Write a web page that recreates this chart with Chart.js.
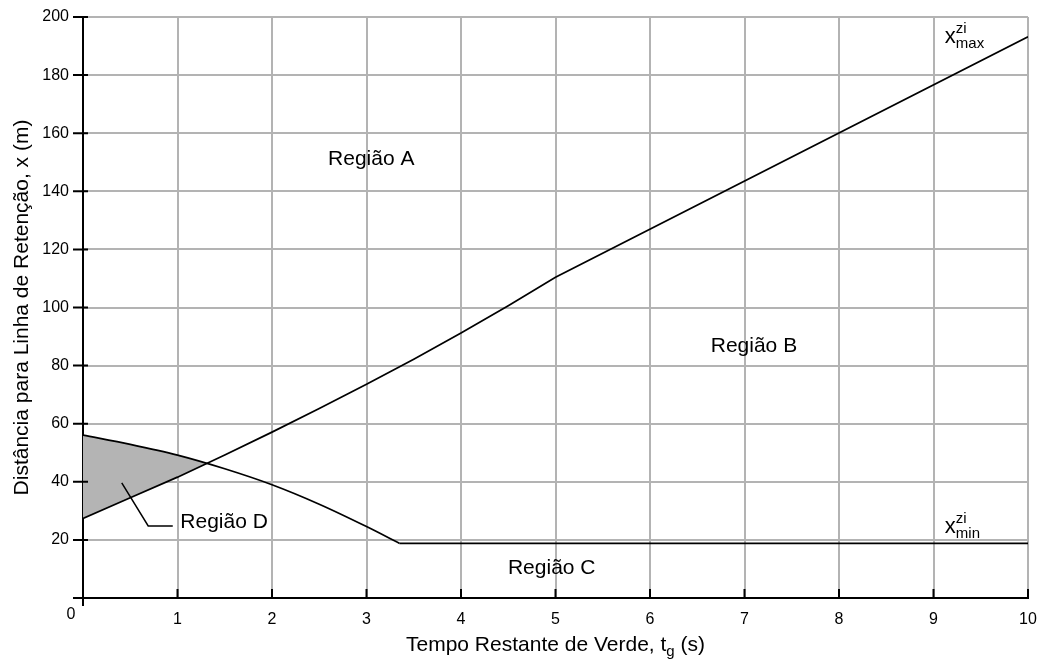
<!DOCTYPE html>
<html>
<head>
<meta charset="utf-8">
<script src="https://cdn.jsdelivr.net/npm/chart.js@4"></script>
<style>
  html, body { margin: 0; padding: 0; background: #fff; }
  canvas { display: block; }
</style>
</head>
<body>
<canvas id="chart" width="1039" height="660"></canvas>
<script>
// time remaining of green (s)
const xMaxTimes = [0, 0.5, 1, 1.5, 2, 2.5, 3, 3.5, 4, 4.5, 5, 10];
const xMaxDist = [27.4, 34.5, 41.6, 49.2, 57.1, 65.2, 73.6, 82.2, 91.2, 100.6, 110.4, 193.2];

const xMinTimes = [0, 0.5, 1, 1.5, 2, 2.5, 3, 3.35, 10];
const xMinDist = [56.1, 52.9, 49.2, 44.5, 39.0, 32.3, 24.6, 18.8, 18.8];

const xTicks = [0, 1, 2, 3, 4, 5, 6, 7, 8, 9, 10];
const yTicks = [0, 20, 40, 60, 80, 100, 120, 140, 160, 180, 200];

const FONT = '"Liberation Sans", Arial, Helvetica, sans-serif';
const GRID = '#b3b3b3';

function toPoints(xs, ys) {
  return xs.map((x, i) => ({ x: x, y: ys[i] }));
}

// draws text made of pieces (normal / super / sub)
function richText(ctx, x, y, parts) {
  let cx = x;
  parts.forEach(p => {
    ctx.font = p.size + 'px ' + FONT;
    ctx.fillText(p.text, cx, y + (p.dy || 0));
    cx += ctx.measureText(p.text).width;
  });
  return cx - x;
}

function richWidth(ctx, parts) {
  let w = 0;
  parts.forEach(p => {
    ctx.font = p.size + 'px ' + FONT;
    w += ctx.measureText(p.text).width;
  });
  return w;
}

const annotate = {
  id: 'annotate',
  afterDraw(chart) {
    const { ctx, chartArea: a } = chart;
    const sx = chart.scales.x;
    const sy = chart.scales.y;
    const px = v => sx.getPixelForValue(v);
    const py = v => sy.getPixelForValue(v);

    ctx.save();
    ctx.strokeStyle = '#000';
    ctx.lineWidth = 2;
    ctx.beginPath();
    // y ticks, crossing the axis
    yTicks.forEach(v => {
      ctx.moveTo(a.left - 10, py(v));
      ctx.lineTo(a.left + 5, py(v));
    });
    // x ticks, pointing inward
    xTicks.forEach(v => {
      ctx.moveTo(px(v), a.bottom - 9);
      ctx.lineTo(px(v), a.bottom);
    });
    ctx.moveTo(a.left, a.bottom);
    ctx.lineTo(a.left, a.bottom + 8);
    ctx.stroke();

    ctx.fillStyle = '#000';
    // corner zero
    ctx.font = '16px ' + FONT;
    ctx.textAlign = 'center';
    ctx.textBaseline = 'alphabetic';
    ctx.fillText('0', 71, 619);

    // region labels
    ctx.font = '21px ' + FONT;
    ctx.textBaseline = 'middle';
    ctx.fillText('Região A', px(3.05), py(151));
    ctx.fillText('Região B', px(7.10), py(86.7));
    ctx.fillText('Região C', px(4.96), py(10.3));
    ctx.textAlign = 'left';
    ctx.fillText('Região D', px(1.03), py(26.2));

    // leader line for region D
    ctx.lineWidth = 1.5;
    ctx.beginPath();
    ctx.moveTo(px(0.41), py(39.6));
    ctx.lineTo(px(0.69), py(24.8));
    ctx.lineTo(px(0.95), py(24.8));
    ctx.stroke();

    // curve labels
    ctx.textBaseline = 'alphabetic';
    ctx.textAlign = 'left';
    [['max', 191.2], ['min', 22.5]].forEach(([sub, yv]) => {
      const x0 = px(9.12);
      const y0 = py(yv);
      ctx.font = '22px ' + FONT;
      ctx.fillText('x', x0, y0);
      const w = ctx.measureText('x').width;
      ctx.font = '15px ' + FONT;
      ctx.fillText('zi', x0 + w, y0 - 10);
      ctx.fillText(sub, x0 + w, y0 + 5);
    });

    // x axis title
    const xParts = [
      { text: 'Tempo Restante de Verde, t', size: 21 },
      { text: 'g', size: 15, dy: 5 },
      { text: ' (s)', size: 21 }
    ];
    const tw = richWidth(ctx, xParts);
    richText(ctx, (a.left + a.right) / 2 - tw / 2, 651, xParts);

    // y axis title
    ctx.translate(22, (a.top + a.bottom) / 2);
    ctx.rotate(-Math.PI / 2);
    ctx.font = '21px ' + FONT;
    ctx.textAlign = 'center';
    ctx.textBaseline = 'middle';
    ctx.fillText('Distância para Linha de Retenção, x (m)', 0, 0);
    ctx.restore();
  }
};

const lineStyle = {
  borderColor: '#000',
  borderWidth: 1.7,
  pointRadius: 0,
  fill: false
};

new Chart(document.getElementById('chart'), {
  type: 'line',
  data: {
    datasets: [
      {
        ...lineStyle,
        label: 'x max',
        data: toPoints(xMaxTimes, xMaxDist),
        tension: 0
      },
      {
        ...lineStyle,
        label: 'x min (curve)',
        data: toPoints(xMinTimes.slice(0, -1), xMinDist.slice(0, -1)),
        cubicInterpolationMode: 'monotone',
        fill: { target: 0, above: '#b4b4b4', below: 'rgba(0,0,0,0)' }
      },
      {
        ...lineStyle,
        label: 'x min (flat)',
        data: toPoints(xMinTimes.slice(-2), xMinDist.slice(-2)),
        tension: 0
      }
    ]
  },
  options: {
    responsive: false,
    animation: false,
    devicePixelRatio: 1,
    layout: { padding: { left: 0, right: 11, top: 17, bottom: 0 } },
    plugins: {
      legend: { display: false },
      tooltip: { enabled: false }
    },
    scales: {
      x: {
        type: 'linear',
        min: 0,
        max: 10,
        afterBuildTicks: s => { s.ticks = xTicks.map(v => ({ value: v })); },
        afterFit: s => {
          s.height = 62;
          s.paddingLeft = 0;
          s.paddingRight = 0;
        },
        grid: { color: GRID, lineWidth: 2, drawTicks: false },
        border: { display: true, color: '#000', width: 2 },
        ticks: {
          padding: 12,
          color: '#000',
          font: { family: FONT, size: 16 },
          callback: v => (v === 0 ? '' : String(v))
        }
      },
      y: {
        min: 0,
        max: 200,
        afterBuildTicks: s => { s.ticks = yTicks.map(v => ({ value: v })); },
        afterFit: s => {
          s.width = 83;
          s.paddingTop = 0;
          s.paddingBottom = 0;
        },
        grid: { color: GRID, lineWidth: 2, drawTicks: false },
        border: { display: true, color: '#000', width: 2 },
        ticks: {
          padding: 14,
          color: '#000',
          font: { family: FONT, size: 16 },
          callback: v => (v === 0 ? '' : String(v))
        }
      }
    }
  },
  plugins: [annotate]
});
</script>
</body>
</html>
